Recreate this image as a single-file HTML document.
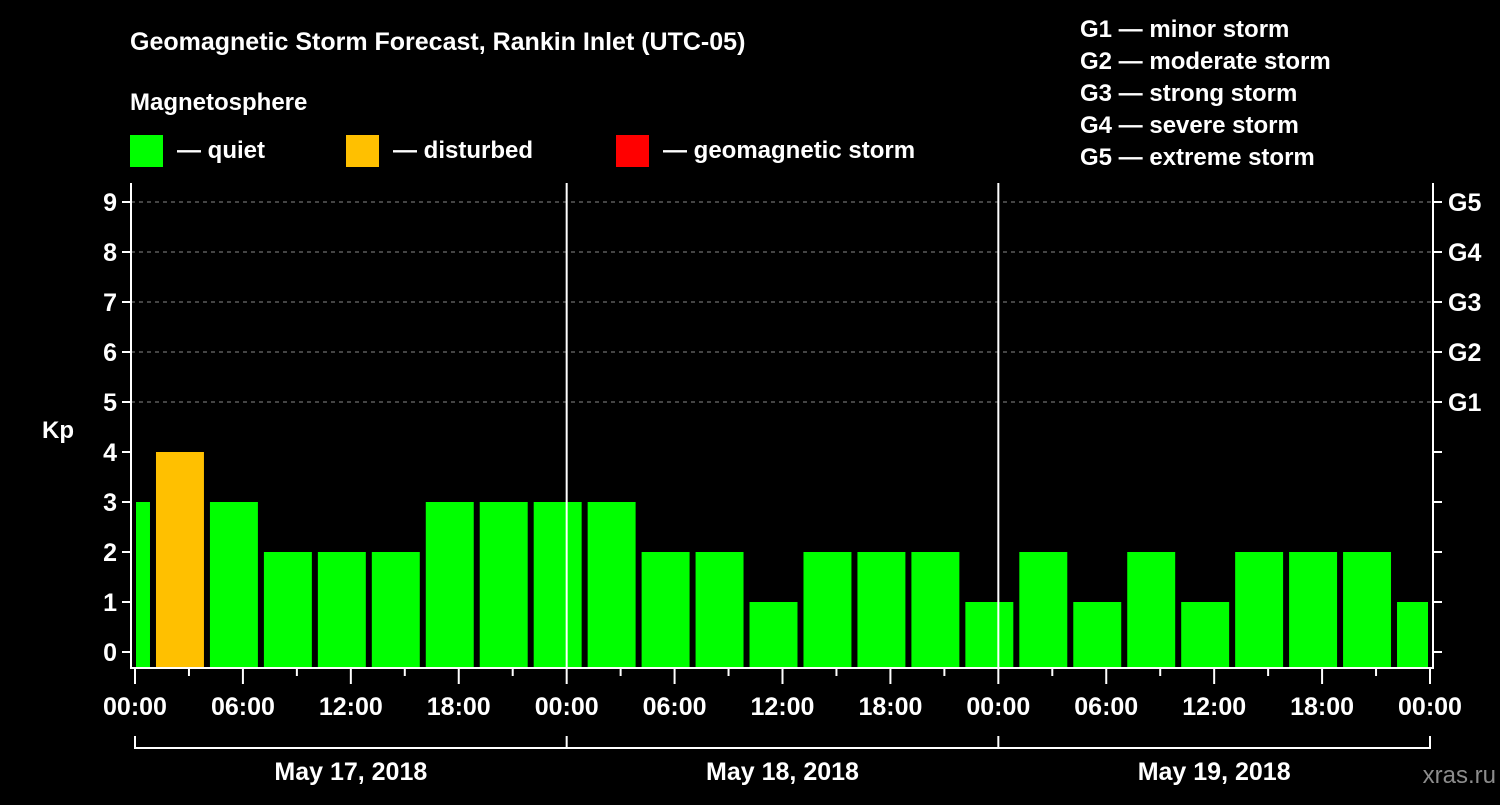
<!DOCTYPE html>
<html><head><meta charset="utf-8"><style>
body{margin:0;background:#000;width:1500px;height:800px;overflow:hidden}
svg text{font-family:"Liberation Sans",sans-serif;font-weight:bold;fill:#fff}
</style></head><body>
<svg id="c" width="1500" height="800" xmlns="http://www.w3.org/2000/svg">
<text x="130" y="50" font-size="25">Geomagnetic Storm Forecast, Rankin Inlet (UTC-05)</text>
<text x="130" y="110" font-size="24">Magnetosphere</text>
<rect x="130" y="135" width="33" height="32" fill="#00ff00"/>
<text x="177" y="158" font-size="24">— quiet</text>
<rect x="346" y="135" width="33" height="32" fill="#ffc000"/>
<text x="393" y="158" font-size="24">— disturbed</text>
<rect x="616" y="135" width="33" height="32" fill="#ff0000"/>
<text x="663" y="158" font-size="24">— geomagnetic storm</text>
<g font-size="24">
<text x="1080" y="37">G1 — minor storm</text>
<text x="1080" y="69">G2 — moderate storm</text>
<text x="1080" y="101">G3 — strong storm</text>
<text x="1080" y="133">G4 — severe storm</text>
<text x="1080" y="165">G5 — extreme storm</text>
</g>
<text x="42" y="438" font-size="24">Kp</text>
<text x="1496" y="783" font-size="24" text-anchor="end" fill="#888" style="fill:#8c8c8c;font-weight:normal">xras.ru</text>
<g id="plot"></g>
</svg>
<script>
const kpValues=[3,4,3,2,2,2,3,3,3,3,2,2,1,2,2,2,1,2,1,2,1,2,2,2,1];
const binStartHours=[-2,1,4,7,10,13,16,19,22,25,28,31,34,37,40,43,46,49,52,55,58,61,64,67,70];
const yTicks=[0,1,2,3,4,5,6,7,8,9];
const gLabels=["G1","G2","G3","G4","G5"];
const gKp=[5,6,7,8,9];
const xTickLabels=["00:00","06:00","12:00","18:00","00:00","06:00","12:00","18:00","00:00","06:00","12:00","18:00","00:00"];
const dayLabels=["May 17, 2018","May 18, 2018","May 19, 2018"];
const NS="http://www.w3.org/2000/svg";
const X0=135,X1=1430,L=131,R=1433,T=183,B=668;
const x=h=>X0+(h/72)*(X1-X0);
const y=v=>652-v*50;
const g=document.getElementById('plot');
function mk(t,a){const e=document.createElementNS(NS,t);for(const k in a)e.setAttribute(k,a[k]);g.appendChild(e);return e;}
// grid
gKp.forEach((v,i)=>{
 const l=mk('line',{x1:L,x2:R,y1:y(v),y2:y(v),stroke:'#888','stroke-dasharray':'4,4','stroke-width':1});
 
 
 const t=mk('text',{x:1448,y:y(v)+9,'font-size':25});
 t.textContent=gLabels[i];
 
 
});
// bars
kpValues.forEach((v,i)=>{
 const s=binStartHours[i];
 let a=x(s)+3,b=x(s+3)-3;
 a=Math.max(a,X0+1);b=Math.min(b,X1-2);
 const r=mk('rect',{x:a,y:y(v),width:b-a,height:B-y(v),fill:v>=5?'#ff0000':(v>=4?'#ffc000':'#00ff00')});
 
 
});
// axes frame
const fr=mk('path',{d:`M${L},${T}V${B}H${R}V${T}`,fill:'none',stroke:'#fff','stroke-width':2});


[24,48].forEach(h=>{
 const l=mk('line',{x1:x(h),x2:x(h),y1:T,y2:B,stroke:'#fff','stroke-width':2});
 
 
});
yTicks.forEach(v=>{
 mk('line',{x1:L-9,x2:L,y1:y(v),y2:y(v),stroke:'#fff','stroke-width':2});
 mk('line',{x1:R,x2:R+9,y1:y(v),y2:y(v),stroke:'#fff','stroke-width':2});
 const t=mk('text',{x:L-14,y:y(v)+9,'font-size':25,'text-anchor':'end'});
 t.textContent=v;
 
 
});
for(let h=0;h<=72;h+=3){
 const maj=h%6===0;
 mk('line',{x1:x(h),x2:x(h),y1:B,y2:B+(maj?16:8),stroke:'#fff','stroke-width':2});
}
xTickLabels.forEach((s,i)=>{
 const t=mk('text',{x:x(i*6),y:715,'font-size':25,'text-anchor':'middle'});
 t.textContent=s;
 
 
});
const br=mk('path',{d:`M${x(0)},736V748H${x(72)}V736M${x(24)},736V748M${x(48)},736V748`,fill:'none',stroke:'#fff','stroke-width':2});


dayLabels.forEach((s,i)=>{
 const t=mk('text',{x:x(i*24+12),y:780,'font-size':25,'text-anchor':'middle'});
 t.textContent=s;
 
 
});
</script>
</body></html>
